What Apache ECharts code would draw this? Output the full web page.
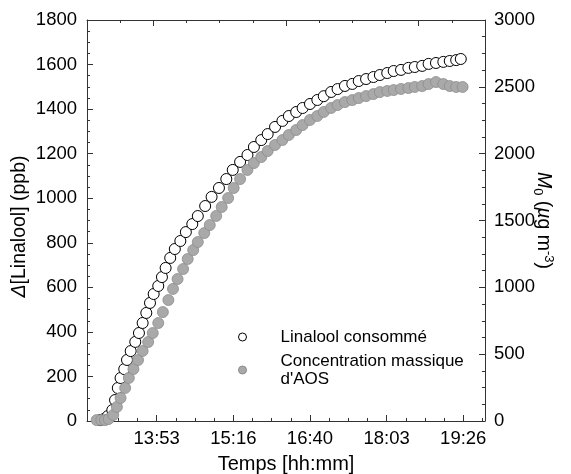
<!DOCTYPE html>
<html>
<head>
<meta charset="UTF-8">
<title></title>
<style>
  html, body { margin: 0; padding: 0; background: #fff; }
  #main { width: 571px; height: 474px; }
</style>
</head>
<body>
<div id="main"></div>
<script src="https://cdn.jsdelivr.net/npm/echarts@6/dist/echarts.min.js"></script>
<script>
// Linalool consommé (left axis, ppb) - white circles
var linaloolTimes = ['12:52','12:56','13:00','13:05','13:08','13:11','13:14','13:18','13:21','13:25',
  '13:30','13:34','13:38','13:42','13:46','13:50','13:55','13:59','14:03','14:08',
  '14:13','14:19','14:25','14:32','14:38','14:46','14:53','15:01','15:09','15:16',
  '15:24','15:32','15:39','15:47','15:54','16:02','16:10','16:17','16:25','16:32',
  '16:40','16:48','16:55','17:03','17:10','17:18','17:26','17:33','17:41','17:49',
  '17:56','18:04','18:11','18:19','18:27','18:34','18:42','18:49','18:57','19:05',
  '19:12','19:19','19:24'];
var linaloolValues = [4,9,22,49,94,148,193,233,274,314,
  355,395,440,485,530,570,606,646,687,732,
  772,808,848,884,920,965,1006,1046,1086,1127,
  1163,1194,1230,1261,1288,1320,1347,1369,1387,1405,
  1423,1441,1458,1477,1490,1504,1513,1526,1535,1544,
  1553,1562,1571,1576,1585,1589,1594,1603,1607,1612,
  1616,1620,1625];

// Concentration massique d'AOS (right axis, µg m-3) - grey circles
var aosTimes = ['12:48','12:53','12:57','13:01','13:06','13:10','13:14','13:19','13:23','13:28',
  '13:33','13:38','13:44','13:49','13:55','14:00','14:06','14:11','14:16','14:22',
  '14:27','14:33','14:38','14:45','14:51','14:58','15:04','15:11','15:17','15:24',
  '15:32','15:39','15:47','15:54','16:02','16:10','16:17','16:25','16:32','16:40',
  '16:48','16:55','17:03','17:10','17:18','17:26','17:33','17:41','17:49','17:56',
  '18:04','18:11','18:19','18:27','18:34','18:42','18:49','18:57','19:05','19:12',
  '19:19','19:26'];
var aosValues = [7,7,7,15,45,105,172,247,322,389,
  456,524,591,658,733,815,905,988,1062,1137,
  1212,1279,1339,1406,1466,1534,1601,1668,1743,1810,
  1878,1930,1975,2020,2065,2102,2140,2177,2214,2252,
  2282,2312,2342,2364,2386,2401,2416,2431,2446,2461,
  2469,2476,2484,2491,2499,2506,2521,2536,2521,2506,
  2499,2499];

// x axis in seconds of the day
var xMin = 45450, xMax = 71420;
var xMajorTicks = [50000, 55000, 60000, 65000, 70000];
var xMinorStep = 1250;
// top axis ticks (no labels)
var topMajorTicks = [2, 6, 10];
var topMinorTicks = [1, 3, 4, 5, 7, 8, 9, 11];

var FONT = '"Liberation Sans", Arial, Helvetica, sans-serif';
var AXIS_COLOR = '#333';
var TICK_FONT = 18.5;
var TITLE_FONT = 19.5;

function toSec(s) {
  var p = s.split(':');
  return (+p[0]) * 3600 + (+p[1]) * 60;
}
function fmtTime(v) {
  var h = Math.floor(v / 3600);
  var m = Math.floor((v - h * 3600) / 60);
  return h + ':' + (m < 10 ? '0' + m : m);
}
function fmtNum(v) { return String(v); }

var xMinorTicks = [];
for (var t = xMajorTicks[0] - 3 * xMinorStep; t < xMax; t += xMinorStep) {
  if (xMajorTicks.indexOf(t) < 0 && t > xMin) xMinorTicks.push(t);
}

var linaloolData = linaloolTimes.map(function (s, i) { return [toSec(s), linaloolValues[i]]; });
var aosData = aosTimes.map(function (s, i) { return [toSec(s), aosValues[i]]; });

var myChart = echarts.init(document.getElementById('main'));

function plainX(pos, min, max, ticks, len) {
  return {
    type: 'value', position: pos, min: min, max: max, gridIndex: 0,
    axisLine: { show: false, onZero: false },
    axisTick: { show: true, inside: true, length: len, customValues: ticks,
      lineStyle: { color: AXIS_COLOR, width: 1 } },
    axisLabel: { show: false },
    splitLine: { show: false }
  };
}

var topMajor = plainX('top', 0, 12, topMajorTicks, 6);
topMajor.axisLine = { show: true, onZero: false, lineStyle: { color: AXIS_COLOR, width: 1 } };

var option = {
  animation: false,
  backgroundColor: '#fff',
  grid: { left: 87, right: 86, top: 20, bottom: 53, outerBoundsMode: 'none', containLabel: false },
  legend: {
    orient: 'vertical', left: 233, top: 323,
    icon: 'circle', itemWidth: 66, itemHeight: 8, itemGap: 6,
    selectedMode: false,
    itemStyle: { borderWidth: 1 },
    textStyle: { fontFamily: FONT, fontSize: 17, lineHeight: 18, color: '#000' },
    formatter: function (name) { return name.replace(" d'AOS", "\nd'AOS"); },
    data: ['Linalool consommé', "Concentration massique d'AOS"]
  },
  xAxis: [
    {
      type: 'value', position: 'bottom', min: xMin, max: xMax,
      axisLine: { show: true, onZero: false, lineStyle: { color: AXIS_COLOR, width: 1 } },
      axisTick: { show: true, inside: true, length: 6, customValues: xMajorTicks,
        lineStyle: { color: AXIS_COLOR, width: 1 } },
      axisLabel: { customValues: xMajorTicks, formatter: fmtTime, fontFamily: FONT,
        fontSize: TICK_FONT, color: '#000', margin: 8 },
      splitLine: { show: false },
      name: 'Temps [hh:mm]', nameLocation: 'middle', nameGap: 33, nameMoveOverlap: false,
      nameTextStyle: { fontFamily: FONT, fontSize: 20, color: '#000' }
    },
    plainX('bottom', xMin, xMax, xMinorTicks, 3),
    topMajor,
    plainX('top', 0, 12, topMinorTicks, 3)
  ],
  yAxis: [
    {
      type: 'value', position: 'left', min: 0, max: 1800, interval: 200,
      axisLine: { show: true, onZero: false, lineStyle: { color: AXIS_COLOR, width: 1 } },
      axisTick: { show: true, inside: true, length: 6, lineStyle: { color: AXIS_COLOR, width: 1 } },
      minorTick: { show: true, splitNumber: 4, length: 3, lineStyle: { color: AXIS_COLOR, width: 1 } },
      axisLabel: { formatter: fmtNum, fontFamily: FONT, fontSize: TICK_FONT, color: '#000', margin: 10 },
      splitLine: { show: false },
      name: '{it|Δ}{n|[Linalool] (ppb)}', nameLocation: 'middle', nameGap: 57, nameRotate: 90,
      nameMoveOverlap: false,
      nameTextStyle: { fontFamily: FONT, fontSize: TITLE_FONT, color: '#000', align: 'center',
        padding: [0, 12, 0, 0],
        rich: {
          it: { fontFamily: FONT, fontSize: TITLE_FONT, fontStyle: 'italic', color: '#000' },
          n: { fontFamily: FONT, fontSize: TITLE_FONT, color: '#000' }
        } }
    },
    {
      type: 'value', position: 'right', min: 0, max: 3000, interval: 500,
      axisLine: { show: true, onZero: false, lineStyle: { color: AXIS_COLOR, width: 1 } },
      axisTick: { show: true, inside: true, length: 6, lineStyle: { color: AXIS_COLOR, width: 1 } },
      minorTick: { show: true, splitNumber: 4, length: 3, lineStyle: { color: AXIS_COLOR, width: 1 } },
      axisLabel: { formatter: fmtNum, fontFamily: FONT, fontSize: TICK_FONT, color: '#000', margin: 9 },
      splitLine: { show: false },
      name: '{it|M}{sub|0}{n| (}{it|µ}{n|g m}{sup|-3}{n|)}', nameLocation: 'middle', nameGap: 46,
      nameRotate: -90, nameMoveOverlap: false,
      nameTextStyle: { fontFamily: FONT, fontSize: TITLE_FONT, color: '#000', lineHeight: 24, align: 'center',
        rich: {
          n: { fontFamily: FONT, fontSize: TITLE_FONT, color: '#000' },
          it: { fontFamily: FONT, fontSize: TITLE_FONT, fontStyle: 'italic', color: '#000' },
          sub: { fontFamily: FONT, fontSize: 13, lineHeight: 13, verticalAlign: 'bottom', color: '#000' },
          sup: { fontFamily: FONT, fontSize: 13, lineHeight: 13, verticalAlign: 'top', color: '#000' }
        } }
    }
  ],
  series: [
    {
      name: 'Linalool consommé', type: 'scatter', xAxisIndex: 0, yAxisIndex: 0,
      symbol: 'circle', symbolSize: 11,
      itemStyle: { color: '#fff', borderColor: '#000', borderWidth: 1, opacity: 1 },
      emphasis: { disabled: true },
      data: linaloolData
    },
    {
      name: "Concentration massique d'AOS", type: 'scatter', xAxisIndex: 0, yAxisIndex: 1,
      symbol: 'circle', symbolSize: 11,
      itemStyle: { color: '#a9a9a9', borderColor: '#8c8c8c', borderWidth: 0.8, opacity: 1 },
      emphasis: { disabled: true },
      data: aosData
    }
  ]
};

myChart.setOption(option);
</script>
</body>
</html>
